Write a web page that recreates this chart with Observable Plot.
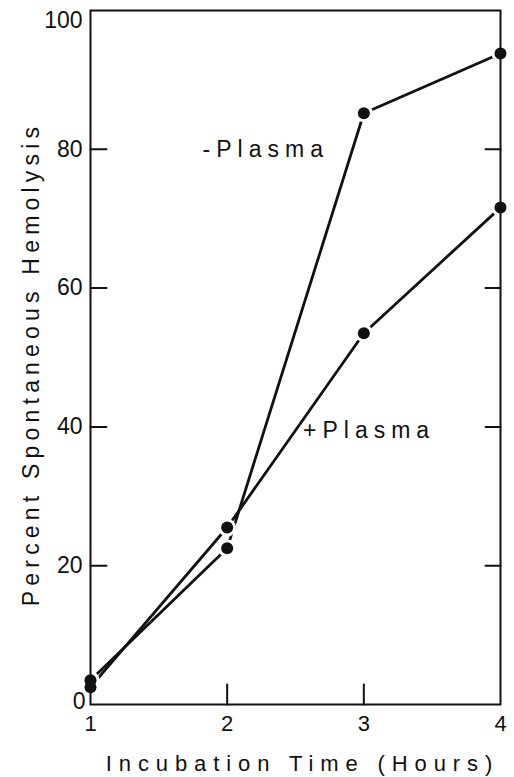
<!DOCTYPE html>
<html><head><meta charset="utf-8">
<script src="https://cdn.jsdelivr.net/npm/d3@7"></script>
<script src="https://cdn.jsdelivr.net/npm/@observablehq/plot@0.6"></script>
<style>body{margin:0;background:#fff}</style>
</head><body><div id="chart"></div>
<script>
// Data
const hours = [1, 2, 3, 4];
const minusPlasma = [3.5, 22.5, 85.2, 93.8];
const plusPlasma = [2.5, 25.5, 53.5, 71.6];
const xTicks = [1, 2, 3, 4];
const yTicksMid = [20, 40, 60, 80];
const yTickBottom = [0];
const yTickTop = [100];
const innerYTicks = [20, 40, 60, 80];
const innerXTicks = [2, 3];
const seriesNames = ["-Plasma", "+Plasma"];
const seriesLabelX = [1.82, 2.555];
const seriesLabelY = [80, 39.5];
const xTitle = "Incubation Time (Hours)";
const yTitle = "Percent Spontaneous Hemolysis";

const rows = [
  ...hours.map((h, i) => ({hour: h, value: minusPlasma[i], series: seriesNames[0]})),
  ...hours.map((h, i) => ({hour: h, value: plusPlasma[i], series: seriesNames[1]}))
];
const labels = seriesNames.map((s, i) => ({text: s, x: seriesLabelX[i], y: seriesLabelY[i]}));

const ink = "#111";
const font = "'Liberation Sans', Arial, sans-serif";
const tickShape = {draw(ctx, l) { ctx.moveTo(0, 0); ctx.lineTo(0, -l); }};

const chart = Plot.plot({
  width: 514, height: 777,
  marginLeft: 90, marginRight: 14, marginTop: 10, marginBottom: 73,
  x: {domain: [1, 4]},
  y: {domain: [0, 100]},
  style: {fontFamily: font, color: ink, background: "#fff"},
  marks: [
    Plot.line(rows, {x: "hour", y: "value", z: "series", stroke: ink, strokeWidth: 2.8}),
    Plot.dot(rows, {x: "hour", y: "value", r: 9, fill: "white"}),
    Plot.dot(rows, {x: "hour", y: "value", r: 6, fill: ink}),
    Plot.frame({stroke: ink, strokeWidth: 2}),
    Plot.vector(innerYTicks, {y: d => d, frameAnchor: "left", rotate: 90, length: 16, anchor: "start", shape: tickShape, stroke: ink, strokeWidth: 2}),
    Plot.vector(innerYTicks, {y: d => d, frameAnchor: "right", rotate: -90, length: 15, anchor: "start", shape: tickShape, stroke: ink, strokeWidth: 2}),
    Plot.vector(innerXTicks, {x: d => d, frameAnchor: "bottom", rotate: 0, length: 20, anchor: "start", shape: tickShape, stroke: ink, strokeWidth: 2}),
    Plot.axisY({ticks: yTicksMid, tickSize: 0, tickPadding: 8, fontSize: 23, label: null}),
    Plot.axisY({ticks: yTickBottom, tickSize: 0, tickPadding: 5, fontSize: 23, label: null, dy: -3}),
    Plot.axisY({ticks: yTickTop, tickSize: 0, tickPadding: 8, fontSize: 23, label: null, dy: 10}),
    Plot.axisX({ticks: xTicks, tickSize: 0, tickPadding: 11, fontSize: 22, label: null, tickFormat: d3.format("d")}),
    Plot.text(labels, {x: "x", y: "y", text: "text", textAnchor: "start", fontSize: 23, fill: ink}),
    Plot.text([yTitle], {frameAnchor: "left", textAnchor: "middle", lineAnchor: "middle", dx: -59, dy: 6.5, rotate: -90, text: d => d, fontSize: 23, fill: ink}),
    Plot.text([xTitle], {frameAnchor: "bottom", textAnchor: "middle", lineAnchor: "bottom", dy: 66, dx: 7, text: d => d, fontSize: 22, fill: ink})
  ]
});
document.getElementById("chart").appendChild(chart);
d3.select(chart).selectAll("text").each(function() {
  const t = this.textContent;
  if (t === yTitle) this.setAttribute("letter-spacing", "5.2");
  if (t === xTitle) this.setAttribute("letter-spacing", "6.9");
  if (seriesNames.includes(t)) this.setAttribute("letter-spacing", "6");
});
</script>
</body></html>
